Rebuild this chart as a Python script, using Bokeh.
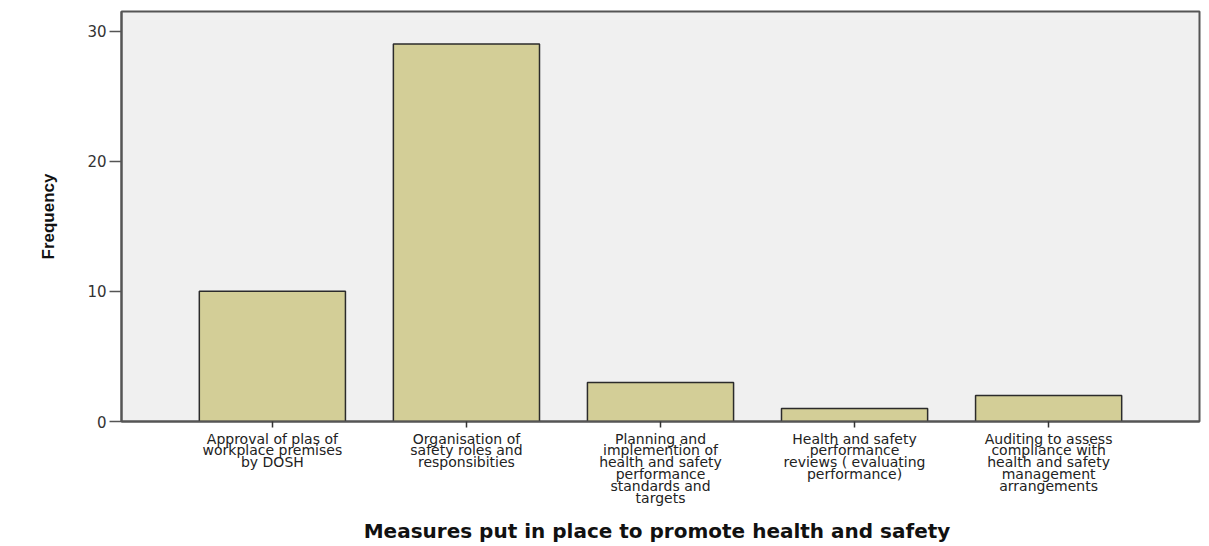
from bokeh.plotting import figure
from bokeh.models import FactorRange, Range1d, FixedTicker
from bokeh.embed import file_html
from bokeh.resources import INLINE

categories = [
    "Approval of plas of\nworkplace premises\nby DOSH",
    "Organisation of\nsafety roles and\nresponsibities",
    "Planning and\nimplemention of\nhealth and safety\nperformance\nstandards and\ntargets",
    "Health and safety\nperformance\nreviews ( evaluating\nperformance)",
    "Auditing to assess\ncompliance with\nhealth and safety\nmanagement\narrangements",
]
frequency = [10, 29, 3, 1, 2]
y_ticks = [0, 10, 20, 30]

p = figure(
    x_range=FactorRange(factors=categories, range_padding=0.111),
    y_range=Range1d(0, 31.5),
    width=1209, height=546,
    output_backend="svg", toolbar_location=None,
    min_border_left=121, min_border_right=10, min_border_top=11, min_border_bottom=0,
)
p.background_fill_color = "#f0f0f0"
p.border_fill_color = "white"
p.outline_line_color = "#555555"
p.outline_line_width = 2
p.grid.grid_line_color = None

p.vbar(x=categories, top=frequency, bottom=0, width=0.753,
       fill_color="#d3ce97", line_color="#2b2b2b", line_width=1.5)

ya = p.yaxis[0]
ya.ticker = FixedTicker(ticks=y_ticks)
ya.axis_line_color = "#555555"
ya.axis_line_width = 2
ya.major_tick_out = 12
ya.major_tick_in = 0
ya.minor_tick_out = 0
ya.minor_tick_in = 0
ya.major_tick_line_color = "#555555"
ya.major_tick_line_width = 1.5
ya.major_label_text_font = "DejaVu Sans"
ya.major_label_text_font_size = "15px"
ya.major_label_text_color = "#333333"
ya.major_label_standoff = 3
ya.axis_label = "Frequency"
ya.axis_label_text_font = "Liberation Sans"
ya.axis_label_text_font_style = "bold"
ya.axis_label_text_font_size = "17px"
ya.axis_label_text_color = "#111111"
ya.axis_label_standoff = 26

xa = p.xaxis[0]
xa.axis_line_color = "#555555"
xa.axis_line_width = 2
xa.major_tick_out = 6
xa.major_tick_in = 0
xa.major_tick_line_color = "#333333"
xa.major_tick_line_width = 1.5
xa.major_label_orientation = "horizontal"
xa.major_label_text_font = "DejaVu Sans"
xa.major_label_text_font_size = "14px"
xa.major_label_text_line_height = 0.745
xa.major_label_text_color = "#222222"
xa.major_label_standoff = 3
xa.axis_label = "Measures  put in place to promote health and safety"
xa.axis_label_text_font = "DejaVu Sans"
xa.axis_label_text_font_style = "bold"
xa.axis_label_text_font_size = "20px"
xa.axis_label_text_color = "#111111"
xa.axis_label_standoff = 10

open("out.html", "w").write(file_html(p, INLINE))
